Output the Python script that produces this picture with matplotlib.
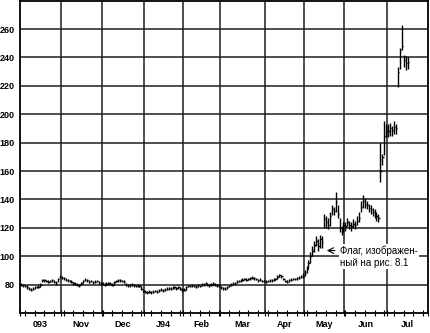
import matplotlib
matplotlib.use("Agg")
import matplotlib.pyplot as plt
import numpy as np

# trading days per month, Oct 1993 .. Jul 1994 (Jul only partly traded)
months = ["093", "Nov", "Dec", "J94", "Feb", "Mar", "Apr", "May", "Jun", "Jul"]
month_days = [21, 21, 22, 20, 19, 23, 20, 21, 22, 21]

# daily bars
close = [
    80, 79.5, 79, 78, 77, 76.5, 77, 78, 78, 78.5, 79.5, 83, 83, 82.5, 82, 82.5, 83, 82, 81, 84, 85.5,
    85, 84.5, 83.5, 83, 82.5, 82, 81, 80.5, 80, 79.5, 81, 82.5, 83.5, 83, 82, 82.5, 81.5, 82, 82.5, 81.5, 81,
    80.5, 80, 80.5, 81, 80.5, 80, 81.5, 82.5, 83, 83, 82.5, 82, 80, 79.5, 79.5, 80, 79.5, 79, 79.5, 79, 77, 75.5,
    75, 74.5, 75, 74.5, 75, 75.5, 75, 76, 76.5, 76, 76.5, 77, 77.5, 77, 78, 78, 77.5, 78, 77, 76,
    76.5, 78, 79, 79, 79.5, 79, 78.5, 79.5, 79, 80, 80, 80.5, 80, 79.5, 80, 80.5, 80, 79.5, 79,
    78, 77.5, 77, 78, 79, 80, 80.5, 81, 82, 82.5, 83, 83.5, 84, 83.5, 84, 84.5, 85, 84.5, 84, 83, 83.5, 82.5, 82.5,
    82, 82.5, 83, 83, 83.5, 84, 85.5, 86.5, 86, 84, 82.5, 82, 83, 83.5, 84, 84, 84.5, 85, 85.5, 86,
    88, 91, 95, 100, 104, 108, 111, 107, 112, 110, 126, 124, 122, 128, 133, 132, 138, 130, 120, 118, 122,
    121, 124, 122, 121, 123, 122, 125, 127, 135, 139, 137, 136, 134, 133, 131, 130, 128, 127, 160, 170, 185, 188,
    188, 190, 189, 191, 190, 230, 245, 248, 238, 236, 237,
]
high = [
    81, 80.5, 80, 79.5, 78, 77.5, 78, 79, 79, 79.5, 81, 84, 84, 83.5, 83, 83.5, 84, 83, 82.5, 85, 86.5,
    86, 85.5, 84.5, 84, 83.5, 83, 82, 81.5, 81, 80.5, 82, 83.5, 84.5, 84, 83, 83.5, 82.5, 83, 83.5, 82.5, 82,
    81.5, 81, 81.5, 82, 81.5, 81, 82.5, 83.5, 84, 84, 83.5, 83, 81, 80.5, 80.5, 81, 80.5, 80, 80.5, 80, 79, 76.5,
    76, 75.5, 76, 75.5, 76, 76.5, 76, 77, 77.5, 77, 77.5, 78, 78.5, 78, 79, 79, 78.5, 79, 78, 77.5,
    77.5, 79, 80, 80, 80.5, 80, 79.5, 80.5, 80, 81, 81, 81.5, 81, 80.5, 81, 81.5, 81, 80.5, 80,
    79, 78.5, 78, 79, 80, 81, 81.5, 82, 83, 83.5, 84, 84.5, 85, 84.5, 85, 85.5, 86, 85.5, 85, 84, 84.5, 83.5, 83.5,
    83, 83.5, 84, 84, 84.5, 85, 86.5, 87.5, 87, 85, 83.5, 83, 84, 84.5, 85, 85, 85.5, 86, 87, 88,
    90, 93, 97, 103, 107, 111, 114, 112, 115, 114, 130, 128, 127, 131, 136, 135, 145, 136, 127, 121, 124,
    124, 127, 125, 124, 126, 125, 128, 131, 139, 143, 141, 139, 137, 136, 134, 133, 131, 130, 180, 172, 195, 193,
    193, 194, 192, 195, 193, 233, 247, 263, 242, 241, 240,
]
low = [
    79, 78.5, 78, 77, 76, 75.5, 76, 77, 77.5, 77.5, 78.5, 81.5, 82, 81.5, 81, 81.5, 82, 81, 80, 82, 84.5,
    84, 83.5, 82.5, 82, 81.5, 81, 80, 79.5, 79, 78.5, 80, 81, 82.5, 82, 81, 81.5, 80.5, 81, 81.5, 80.5, 80,
    79.5, 79, 79.5, 80, 79.5, 79, 80, 81.5, 82, 82, 81.5, 81, 79, 78.5, 78.5, 79, 78.5, 78, 78.5, 78, 76, 74.5,
    74, 73.5, 74, 73.5, 74, 74.5, 74, 75, 75.5, 75, 75.5, 76, 76.5, 76, 77, 77, 76.5, 77, 76, 75,
    75.5, 76.5, 78, 78, 78.5, 78, 77.5, 78.5, 78, 79, 79, 79.5, 79, 78.5, 79, 79.5, 79, 78.5, 78,
    77, 76.5, 76, 77, 78, 79, 79.5, 80, 81, 81.5, 82, 82.5, 83, 82.5, 83, 83.5, 84, 83.5, 83, 82, 82.5, 81.5, 81.5,
    81, 81.5, 82, 82, 82.5, 83, 84, 85.5, 85, 83, 81.5, 81, 82, 82.5, 83, 83, 83.5, 84, 84.5, 85,
    86, 88, 91, 95, 100, 103, 107, 104, 106, 106, 120, 120, 119, 121, 129, 129, 131, 127, 117, 115, 117,
    118, 121, 119, 118, 120, 119, 122, 124, 131, 134, 134, 133, 131, 130, 128, 127, 125, 124, 152, 164, 171, 184,
    184, 185, 185, 186, 186, 219, 232, 245, 233, 231, 232,
]

y_ticks = [80, 100, 120, 140, 160, 180, 200, 220, 240, 260]
note = "Флаг, изображен-\nный на рис. 8.1"

plt.rcParams["font.family"] = ["Liberation Sans", "DejaVu Sans"]

fig = plt.figure(figsize=(4.3, 3.33), dpi=100)
ax = fig.add_axes([0.0465, 0.06, 0.9488, 0.938])

bounds = np.concatenate([[0], np.cumsum(month_days)])
centers = (bounds[:-1] + bounds[1:]) / 2
x = np.arange(len(close)) + 0.5

ax.vlines(x, low, high, color="black", linewidth=1.0)
ax.hlines(close, x, x + 0.7, color="black", linewidth=1.0)

for b in bounds[1:-1]:
    ax.axvline(b, color="#1e1e1e", linewidth=1.1, zorder=0)
for v in y_ticks:
    ax.axhline(v, color="#1e1e1e", linewidth=1.1, zorder=0)

ax.set_xlim(bounds[0], bounds[-1])
ax.set_ylim(60, 280)

ax.set_yticks(y_ticks)
ax.set_yticklabels([str(v) for v in y_ticks], fontsize=6.5, fontweight="bold")
ax.tick_params(axis="y", length=0, pad=4)

ax.set_xticks(centers)
ax.set_xticklabels(months, fontsize=6.5, fontweight="bold")
ax.tick_params(axis="x", which="major", length=0, pad=5)
ax.set_xticks(np.concatenate([np.arange(2.5, bounds[-1], 5), bounds]), minor=True)
ax.tick_params(axis="x", which="minor", direction="inout", length=4, width=0.8)

for s in ax.spines.values():
    s.set_linewidth(1.3)

ax.annotate("", xy=(156.5, 104), xytext=(163.5, 104),
            arrowprops=dict(arrowstyle="->", color="black", lw=0.8))
ax.text(164.7, 99.8, note, fontsize=7, ha="left", va="center", linespacing=1.25,
        bbox=dict(facecolor="white", edgecolor="none", pad=1))

fig.savefig("out.png", dpi=100)
